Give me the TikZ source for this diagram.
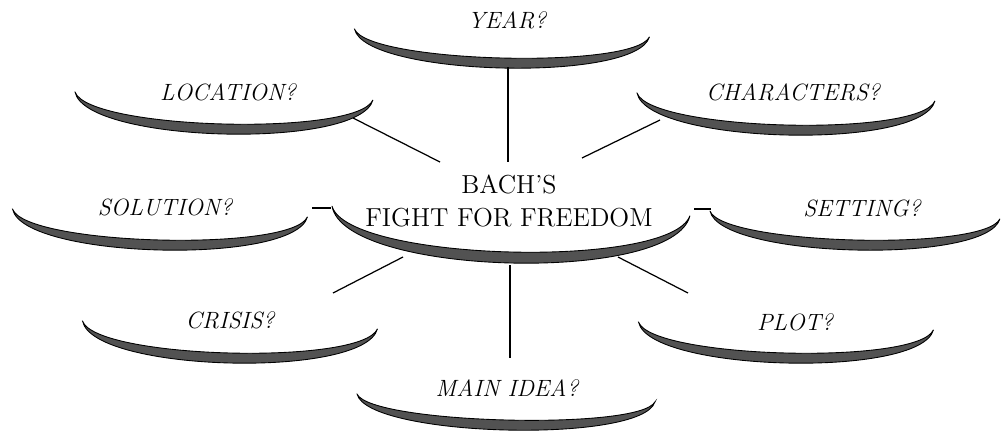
\documentclass[tikz,border=0pt]{standalone}
\usepackage{tikz}
\tikzset{
  dish/.style={fill=black!68, draw=black, line width=0.5pt},
  link/.style={black, line width=0.7pt},
  ask/.style={font=\fontsize{13.4}{16}\selectfont\itshape, inner sep=1pt},
  topic/.style={font=\fontsize{14.8}{18.5}\selectfont, align=center, inner sep=1pt},
}
% crescent: width, depth, thickness
\newcommand{\crescent}[3]{%
  \filldraw[dish] (-#1/2,0) .. controls (-0.46*#1,-1.333*#2) and (0.46*#1,-1.333*#2) .. (#1/2,0)
    .. controls (0.45*#1,-1.333*#2+1.333*#3) and (-0.45*#1,-1.333*#2+1.333*#3) .. cycle;}

\begin{document}
\begin{tikzpicture}[x=0.02cm, y=0.02cm]
  \useasboundingbox (0,0) rectangle (1002,434);
  % dishes
  \begin{scope}[shift={(502,401)}, rotate=-1.5] \crescent{295}{35}{10} \end{scope}
  \begin{scope}[shift={(224,338)}, rotate=-1.5] \crescent{298}{38}{10} \end{scope}
  \begin{scope}[shift={(786,337)}, rotate=-1.5] \crescent{298}{38}{10} \end{scope}
  \begin{scope}[shift={(160,221)}, rotate=-1.5] \crescent{295}{37}{10} \end{scope}
  \begin{scope}[shift={(855,219)}, rotate=-1.5] \crescent{290}{35}{10} \end{scope}
  \begin{scope}[shift={(511,223)}, rotate=-1.5] \crescent{358}{52}{11} \end{scope}
  \begin{scope}[shift={(230,109)}, rotate=-1.5] \crescent{295}{38}{10} \end{scope}
  \begin{scope}[shift={(786,108)}, rotate=-1.5] \crescent{295}{37}{10} \end{scope}
  \begin{scope}[shift={(506,36)}, rotate=-1.5] \crescent{298}{32}{10} \end{scope}
  % labels
  \node[topic] (bach) at (509,233) {BACH'S\\FIGHT FOR FREEDOM};
  \node[ask] (year) at (507,414) {YEAR?};
  \node[ask] (location) at (228,342) {LOCATION?};
  \node[ask] (characters) at (793,342) {CHARACTERS?};
  \node[ask] (solution) at (165,227) {SOLUTION?};
  \node[ask] (setting) at (862,226) {SETTING?};
  \node[ask] (crisis) at (230,114) {CRISIS?};
  \node[ask] (plot) at (795,112) {PLOT?};
  \node[ask] (mainidea) at (507,46) {MAIN IDEA?};
  % line ends
  \coordinate (year-in) at (508,367);
  \coordinate (year-out) at (508,272);
  \coordinate (location-in) at (353,316);
  \coordinate (location-out) at (440,272);
  \coordinate (characters-in) at (660,314);
  \coordinate (characters-out) at (582,276);
  \coordinate (solution-in) at (312,226);
  \coordinate (solution-out) at (331,226);
  \coordinate (setting-in) at (694,225);
  \coordinate (setting-out) at (711,225);
  \coordinate (crisis-in) at (403,177);
  \coordinate (crisis-out) at (333,141);
  \coordinate (plot-in) at (618,177);
  \coordinate (plot-out) at (688,141);
  \coordinate (mainidea-in) at (510,169);
  \coordinate (mainidea-out) at (510,76);
  % connectors
  \draw[link] (year-in) -- (year-out);
  \draw[link] (location-in) -- (location-out);
  \draw[link] (characters-in) -- (characters-out);
  \draw[link] (solution-in) -- (solution-out);
  \draw[link] (setting-in) -- (setting-out);
  \draw[link] (crisis-in) -- (crisis-out);
  \draw[link] (plot-in) -- (plot-out);
  \draw[link] (mainidea-in) -- (mainidea-out);
\end{tikzpicture}
\end{document}
